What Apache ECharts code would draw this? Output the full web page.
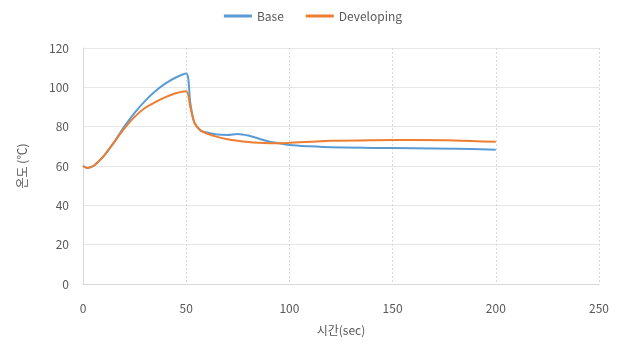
<!DOCTYPE html>
<html><head><meta charset="utf-8">
<script src="https://cdn.jsdelivr.net/npm/echarts@6/dist/echarts.min.js"></script>
<style>html,body{margin:0;padding:0;background:#fff}#c{width:626px;height:353px}</style>
</head><body><div id="c"></div>
<script>
const seriesNames = ['Base', 'Developing'];
const timeValues = [0, 2, 5, 10, 15, 20, 25, 30, 35, 40, 45, 50, 52, 54, 57, 60, 65, 70, 75, 80, 85, 90, 95, 100, 110, 120, 140, 160, 180, 200];
const baseValues = [60, 59, 60, 65, 72, 80, 87, 93, 98, 102, 105, 107, 92, 82, 78, 77, 76, 75.8, 76.3, 75.5, 74, 72.5, 71.5, 70.7, 70, 69.5, 69.2, 69, 68.8, 68.3];
const devValues = [60, 59, 60, 65, 72, 79, 85, 89.5, 92.5, 95, 97, 98, 90, 82, 78, 76.5, 74.8, 73.6, 72.8, 72.2, 71.8, 71.6, 71.6, 71.8, 72.3, 72.8, 73.1, 73.2, 73, 72.3];
const xTicks = [0, 50, 100, 150, 200, 250];
const yTicks = [0, 20, 40, 60, 80, 100, 120];

const font = "'Noto Sans CJK KR', 'Noto Sans', sans-serif";
const chart = echarts.init(document.getElementById('c'), null, {renderer: 'canvas'});
const mk = arr => timeValues.map((t, i) => [t, arr[i]]);
chart.setOption({
  animation: false,
  textStyle: {fontFamily: font},
  legend: {
    top: 5, left: 'center', itemWidth: 28, itemHeight: 3, itemGap: 22,
    textStyle: {color: '#595959', fontSize: 12, fontFamily: font},
    data: seriesNames.map(n => ({name: n, icon: 'rect'}))
  },
  grid: {left: 83, right: 27, top: 48, bottom: 69},
  xAxis: {
    type: 'value', min: xTicks[0], max: xTicks[xTicks.length - 1], interval: 50,
    name: '시간(sec)', nameLocation: 'middle', nameGap: 40,
    nameTextStyle: {color: '#595959', fontSize: 12, fontFamily: font},
    axisLine: {show: true, lineStyle: {color: '#d9d9d9'}},
    axisTick: {show: false},
    axisLabel: {color: '#595959', fontSize: 12, margin: 18},
    splitLine: {show: true, lineStyle: {color: '#d9d9d9', type: [2, 2]}}
  },
  yAxis: {
    type: 'value', min: yTicks[0], max: yTicks[yTicks.length - 1], interval: 20,
    name: '온도 (℃)', nameLocation: 'middle', nameGap: 55,
    nameTextStyle: {color: '#595959', fontSize: 12, fontFamily: font},
    axisLine: {show: true, lineStyle: {color: '#d9d9d9'}},
    axisTick: {show: false},
    axisLabel: {color: '#595959', fontSize: 12, margin: 14},
    splitLine: {show: true, lineStyle: {color: '#e6e6e6'}}
  },
  series: [
    {name: seriesNames[0], type: 'line', data: mk(baseValues), smooth: 0.3, showSymbol: false,
     lineStyle: {color: '#5B9BD5', width: 2}, itemStyle: {color: '#5B9BD5'}},
    {name: seriesNames[1], type: 'line', data: mk(devValues), smooth: 0.3, showSymbol: false,
     lineStyle: {color: '#ED7D31', width: 2}, itemStyle: {color: '#ED7D31'}}
  ]
});
</script></body></html>
